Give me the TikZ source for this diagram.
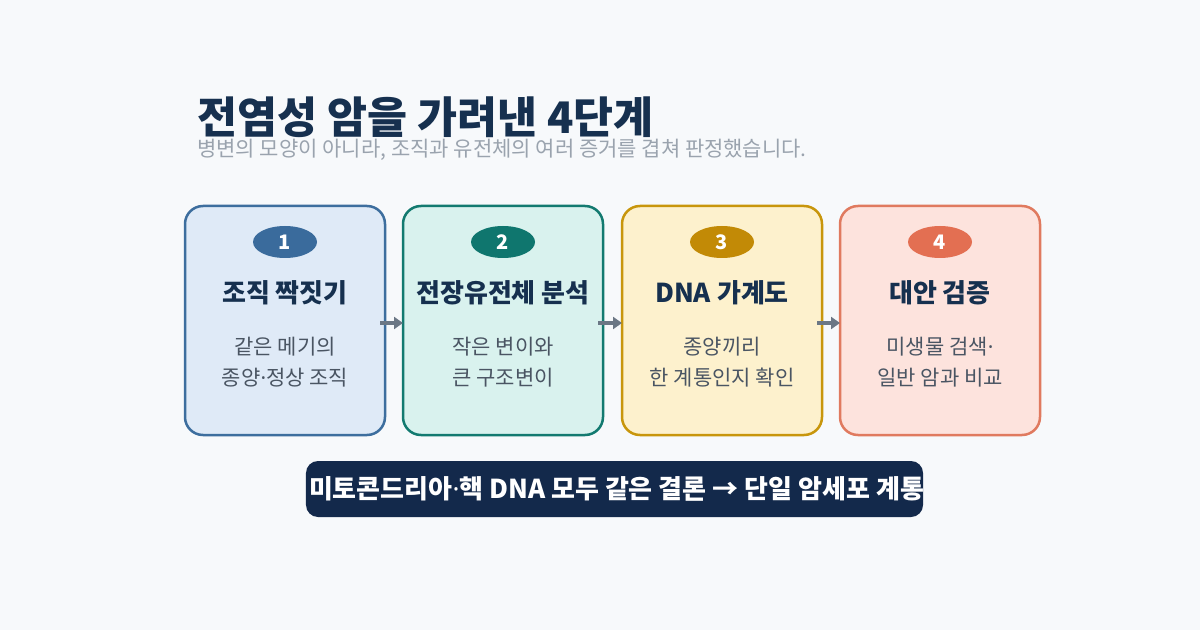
\documentclass[tikz,border=0pt]{standalone}
\usepackage{fontspec}
\setmainfont{Noto Sans CJK KR}
\newfontfamily\dotfont{Noto Sans}
\newcommand{\ndot}{{\dotfont ·}}
\usetikzlibrary{shapes.geometric,arrows.meta}
\definecolor{bg}{HTML}{F7F9FB}
\definecolor{navy}{HTML}{16304F}
\definecolor{subgray}{HTML}{9AA3AE}
\definecolor{descgray}{HTML}{4A5563}
\definecolor{arrgray}{HTML}{6B7785}
\definecolor{banner}{HTML}{13294B}
\definecolor{fA}{HTML}{DFEAF7}\definecolor{dA}{HTML}{3D6E9E}\definecolor{pA}{HTML}{3A6B9C}
\definecolor{fB}{HTML}{D9F2EE}\definecolor{dB}{HTML}{137A70}\definecolor{pB}{HTML}{0F766E}
\definecolor{fC}{HTML}{FDF1CD}\definecolor{dC}{HTML}{C8960C}\definecolor{pC}{HTML}{C28A06}
\definecolor{fD}{HTML}{FDE3DD}\definecolor{dD}{HTML}{E07A5F}\definecolor{pD}{HTML}{E36F52}
\tikzset{
  stepcard/.style={rectangle, rounded corners=18bp, line width=2.5bp, minimum width=200bp, minimum height=229bp, inner sep=0pt},
  pill/.style={ellipse, minimum width=64bp, minimum height=32bp, inner sep=0pt, text=white, font=\fontsize{20bp}{22bp}\selectfont\bfseries},
  headtxt/.style={anchor=base, text=navy, font=\fontsize{26bp}{28bp}\selectfont\bfseries, inner sep=0pt},
  desctxt/.style={anchor=base, text=descgray, font=\fontsize{21bp}{24bp}\selectfont, inner sep=0pt},
  flow/.style={draw=arrgray, line width=4bp, -{Triangle[length=9bp,width=12bp]}},
}
\begin{document}
\begin{tikzpicture}[x=1bp,y=-1bp]
\fill[bg] (0,0) rectangle (1200,630);
\useasboundingbox (0,0) rectangle (1200,630);
\node[anchor=base west, inner sep=0pt, text=navy, font=\fontsize{43.5bp}{48bp}\selectfont\bfseries] (title) at (197,134) {전염성 암을 가려낸 4단계};
\node[anchor=base west, inner sep=0pt, text=subgray, font=\fontsize{21bp}{24bp}\selectfont] (sub) at (197,157) {병변의 모양이 아니라, 조직과 유전체의 여러 증거를 겹쳐 판정했습니다.};
% cards
\node[stepcard, fill=fA, draw=dA] (c1) at (285,320.5) {};
\node[stepcard, fill=fB, draw=dB] (c2) at (503,320.5) {};
\node[stepcard, fill=fC, draw=dC] (c3) at (722,320.5) {};
\node[stepcard, fill=fD, draw=dD] (c4) at (940,320.5) {};
% pills
\node[pill, fill=pA] (n1) at (285,242) {1};
\node[pill, fill=pB] (n2) at (503,242) {2};
\node[pill, fill=pC] (n3) at (722,242) {3};
\node[pill, fill=pD] (n4) at (940,242) {4};
% headings
\node[headtxt] (h1) at (285,303) {조직 짝짓기};
\node[headtxt] (h2) at (503,303) {전장유전체 분석};
\node[headtxt] (h3) at (722,303) {DNA 가계도};
\node[headtxt] (h4) at (940,303) {대안 검증};
% descriptions
\node[desctxt] (d1a) at (285,355) {같은 메기의};
\node[desctxt] (d1b) at (285,385) {종양\ndot 정상 조직};
\node[desctxt] (d2a) at (503,355) {작은 변이와};
\node[desctxt] (d2b) at (503,385) {큰 구조변이};
\node[desctxt] (d3a) at (722,355) {종양끼리};
\node[desctxt] (d3b) at (722,385) {한 계통인지 확인};
\node[desctxt] (d4a) at (940,355) {미생물 검색\ndot};
\node[desctxt] (d4b) at (940,385) {일반 암과 비교};
% arrows
\coordinate (a1s) at (380,323); \coordinate (a1e) at (403,323);
\coordinate (a2s) at (598,323); \coordinate (a2e) at (622,323);
\coordinate (a3s) at (817,323); \coordinate (a3e) at (840,323);
\draw[flow] (a1s) -- (a1e);
\draw[flow] (a2s) -- (a2e);
\draw[flow] (a3s) -- (a3e);
% banner
\node[rectangle, rounded corners=12bp, fill=banner, minimum width=617bp, minimum height=56bp, inner sep=0pt] (ban) at (614.5,489) {};
\node[anchor=base, inner sep=0pt, text=white, font=\fontsize{26bp}{28bp}\selectfont\bfseries] (bantxt) at (616.5,498) {미토콘드리아\ndot 핵 DNA 모두 같은 결론 → 단일 암세포 계통};
\end{tikzpicture}
\end{document}
